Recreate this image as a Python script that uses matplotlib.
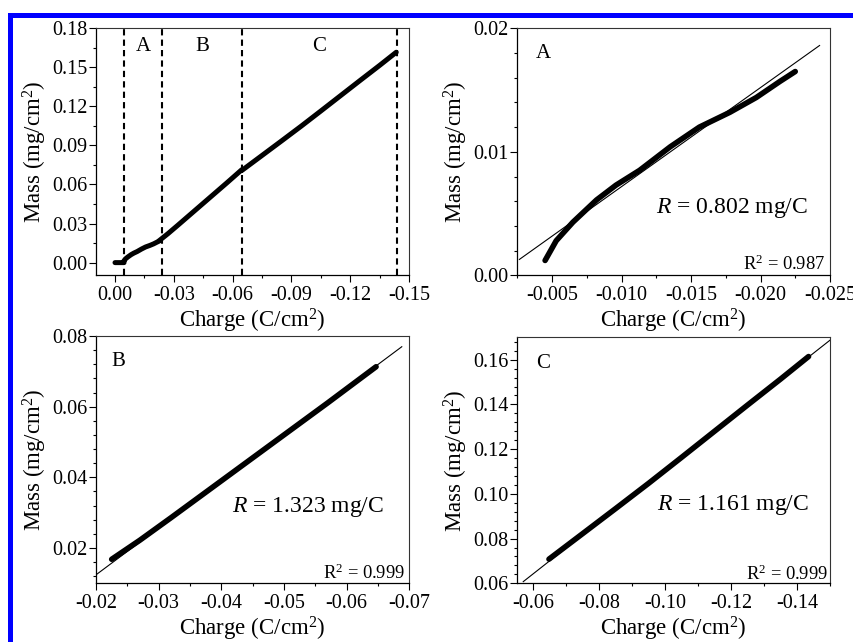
import matplotlib
matplotlib.use("Agg")
import matplotlib.pyplot as plt
from matplotlib.ticker import AutoMinorLocator, FormatStrFormatter
from matplotlib.patches import Rectangle

plt.rcParams["font.family"] = ["Liberation Serif", "DejaVu Serif"]
plt.rcParams["mathtext.fontset"] = "custom"
plt.rcParams["mathtext.rm"] = "Liberation Serif"
plt.rcParams["mathtext.it"] = "Liberation Serif:italic"
plt.rcParams["axes.unicode_minus"] = False

# ---- deposition data: charge (C/cm^2) vs mass (mg/cm^2) ----
charge_0 = [0.0, -0.0046]
mass_0 = [0.0, 0.0]

charge_a = [-0.0045, -0.0053, -0.0065, -0.0082, -0.0096, -0.0113, -0.0135,
            -0.0156, -0.0178, -0.0197, -0.0214, -0.0225]
mass_a = [0.0012, 0.0028, 0.0043, 0.0061, 0.0073, 0.0085, 0.0104,
          0.0120, 0.0132, 0.0144, 0.0157, 0.0165]

charge_b = [-0.0225, -0.0270, -0.0320, -0.0370, -0.0420, -0.0470, -0.0520,
            -0.0570, -0.0610, -0.0647]
mass_b = [0.0168, 0.0222, 0.0286, 0.0351, 0.0416, 0.0481, 0.0546,
          0.0611, 0.0664, 0.0713]

charge_c = [-0.0648, -0.0750, -0.0850, -0.0950, -0.1050, -0.1150, -0.1250,
            -0.1350, -0.1435]
mass_c = [0.0708, 0.0822, 0.0934, 0.1047, 0.1163, 0.1280, 0.1397,
          0.1513, 0.1614]

# region boundaries and labels
region_bounds = [-0.0046, -0.024, -0.0648, -0.1437]
region_names = ["A", "B", "C"]

# linear fits: slope R (mg/C), intercept (mg/cm^2), x-extent of fit line
fit_R = [0.802, 1.323, 1.161]
fit_b = [-0.00084, -0.01406, -0.00544]
fit_R2 = [0.987, 0.999, 0.999]
fit_x = [[-0.00265, -0.02425], [-0.0200, -0.0688], [-0.0570, -0.1500]]

# axis ranges and ticks
lims_all = dict(x=(0.0097, -0.15), y=(-0.0095, 0.18))
xticks_all = [0.00, -0.03, -0.06, -0.09, -0.12, -0.15]
yticks_all = [0.00, 0.03, 0.06, 0.09, 0.12, 0.15, 0.18]

panel_xlim = [(-0.0025, -0.025), (-0.02, -0.07), (-0.0552, -0.15)]
panel_ylim = [(0.0, 0.02), (0.01, 0.08), (0.06, 0.17)]
panel_xticks = [[-0.005, -0.010, -0.015, -0.020, -0.025],
                [-0.02, -0.03, -0.04, -0.05, -0.06, -0.07],
                [-0.06, -0.08, -0.10, -0.12, -0.14]]
panel_yticks = [[0.00, 0.01, 0.02],
                [0.02, 0.04, 0.06, 0.08],
                [0.06, 0.08, 0.10, 0.12, 0.14, 0.16]]
panel_xfmt = ["%.3f", "%.2f", "%.2f"]
panel_yfmt = ["%.2f", "%.2f", "%.2f"]
panel_yminor = [5, 5, 5]

W, H = 854, 642
fig = plt.figure(figsize=(W / 100, H / 100), dpi=100)


def px_axes(left, top, right, bottom):
    return fig.add_axes([left / W, 1 - bottom / H, (right - left) / W, (bottom - top) / H])


def style(ax, xminor, yminor):
    for side in ("top", "right"):
        ax.spines[side].set_linewidth(0.8)
        ax.spines[side].set_color("#333333")
    for side in ("left", "bottom"):
        ax.spines[side].set_linewidth(0.9)
    ax.tick_params(which="both", direction="out", top=False, right=False,
                   labelsize=14.5, width=0.8)
    ax.tick_params(axis="x", pad=3)
    ax.tick_params(axis="y", pad=1.2)
    ax.tick_params(which="major", length=5)
    ax.tick_params(which="minor", length=2.5)
    ax.xaxis.set_minor_locator(AutoMinorLocator(xminor))
    ax.yaxis.set_minor_locator(AutoMinorLocator(yminor))
    ax.set_xlabel("Charge (C/cm$^2$)", fontsize=16.5, labelpad=1)
    ax.set_ylabel("Mass (mg/cm$^2$)", fontsize=16.5, labelpad=2.5)


# ---- overview panel ----
ax0 = px_axes(96, 28, 409, 275)
all_charge = charge_0 + charge_a + charge_b + charge_c
all_mass = mass_0 + mass_a + mass_b + mass_c
ax0.plot(all_charge, all_mass, color="black", lw=3.6, solid_capstyle="round",
         solid_joinstyle="round", zorder=3)
for xb in region_bounds:
    ax0.axvline(xb, color="black", lw=1.5, dashes=(3, 2), zorder=2)
for i, name in enumerate(region_names):
    xm = 0.5 * (region_bounds[i] + region_bounds[i + 1])
    ax0.text(xm, 0.1656, name, ha="center", va="center", fontsize=15)
ax0.set_xlim(*lims_all["x"])
ax0.set_ylim(*lims_all["y"])
ax0.set_xticks(xticks_all)
ax0.set_yticks(yticks_all)
ax0.xaxis.set_major_formatter(FormatStrFormatter("%.2f"))
ax0.yaxis.set_major_formatter(FormatStrFormatter("%.2f"))
style(ax0, 2, 2)

# ---- region panels with linear fits ----
boxes = [(517.3, 28.3, 830, 275.3), (96, 336, 409.3, 583.3), (517.3, 337.3, 830, 583.3)]
series = [(charge_a, mass_a), (charge_b, mass_b), (charge_c, mass_c)]
letter_pos = [(0.082, 0.90), (0.071, 0.896), (0.083, 0.894)]
rtext_pos = [(0.686, 0.272), (0.678, 0.31), (0.691, 0.318)]
r2_pos = [(0.986, 0.022), (0.986, 0.018), (0.995, 0.014)]

for i in range(3):
    ax = px_axes(*boxes[i])
    cx, my = series[i]
    fx = fit_x[i]
    fy = [fit_b[i] - fit_R[i] * v for v in fx]
    ax.plot(fx, fy, color="black", lw=0.8, zorder=4)
    ax.plot(cx, my, color="black", lw=4.0, solid_capstyle="round",
            solid_joinstyle="round", zorder=3)
    ax.set_xlim(*panel_xlim[i])
    ax.set_ylim(*panel_ylim[i])
    ax.set_xticks(panel_xticks[i])
    ax.set_yticks(panel_yticks[i])
    ax.xaxis.set_major_formatter(FormatStrFormatter(panel_xfmt[i]))
    ax.yaxis.set_major_formatter(FormatStrFormatter(panel_yfmt[i]))
    style(ax, 2, panel_yminor[i])
    ax.text(*letter_pos[i], region_names[i], transform=ax.transAxes,
            ha="center", va="center", fontsize=15)
    ax.text(*rtext_pos[i], "$R$ = %.3f mg/C" % fit_R[i], transform=ax.transAxes,
            ha="center", va="center", fontsize=17)
    ax.text(*r2_pos[i], "R$^2$ = %.3f" % fit_R2[i], transform=ax.transAxes,
            ha="right", va="baseline", fontsize=13.3)

# blue frame along the top and left edges
fig.patches.append(Rectangle((8 / W, 1 - 18 / H), 1 - 8 / W, 5 / H,
                             transform=fig.transFigure, color="#0000ff", lw=0))
fig.patches.append(Rectangle((8 / W, 0), 5 / W, 1 - 13 / H,
                             transform=fig.transFigure, color="#0000ff", lw=0))

fig.savefig("out.png", dpi=100)
